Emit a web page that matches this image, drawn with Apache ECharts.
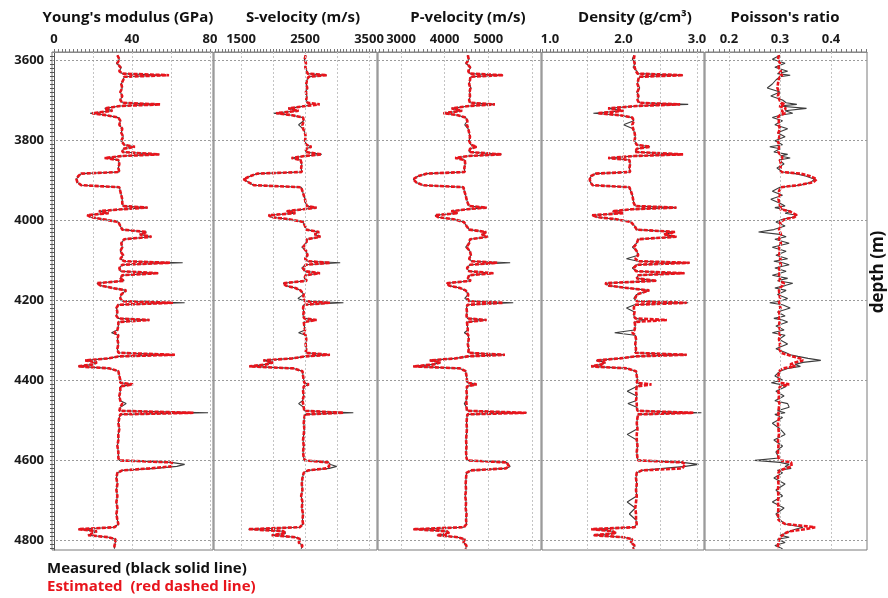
<!DOCTYPE html>
<html>
<head>
<meta charset="utf-8">
<script src="https://cdn.jsdelivr.net/npm/echarts@6/dist/echarts.min.js"></script>
<style>html,body{margin:0;padding:0;background:#fff}#c{width:888px;height:598px}</style>
</head>
<body>
<div id="c"></div>
<script>
// ---------- DATA ----------
const depth = [
3588,3598,3608,3618,3628,3634,3638,3642,3650,3660,
3670,3680,3690,3700,3707,3711,3715,3721,3727,3733,
3738,3744,3752,3762,3772,3782,3792,3802,3812,3817,
3822,3830,3836,3840,3845,3850,3860,3870,3880,3884,
3890,3898,3906,3913,3918,3928,3938,3948,3958,3965,
3969,3973,3978,3983,3988,3993,3998,4005,4015,4024,
4030,4036,4042,4048,4058,4068,4078,4088,4097,4103,
4107,4112,4120,4128,4133,4138,4146,4152,4158,4164,
4170,4176,4186,4196,4203,4207,4212,4220,4230,4240,
4246,4250,4255,4265,4275,4282,4288,4298,4310,4322,
4332,4337,4341,4346,4351,4356,4361,4366,4371,4378,
4390,4400,4407,4411,4416,4428,4440,4452,4459,4468,
4477,4482,4486,4494,4508,4522,4536,4550,4565,4580,
4595,4601,4606,4611,4616,4621,4626,4632,4645,4660,
4675,4690,4705,4720,4735,4750,4760,4768,4773,4778,
4783,4788,4793,4798,4806,4814,4822];

const youngMeas = [
32.5,33.5,32,34.5,33.5,35,57,36,35.5,34.5,
35,34,35,34,35,54,34,26,30,18.5,
27,33,34,33.5,35,34.5,35.5,34.5,36,41.5,
35.5,35,54,35,26,33,33.5,33,33.5,14,
12.5,11.5,12,14,33.5,34,34.5,35,35,35.5,
48,35,23,28,17,19,25,33,34,35,
47.5,44,50,36,34.5,35,34,35.5,34,36,
66,35,33.5,34,53.5,35,34,36,22,24,
30,37,34.5,34,35,67,33,32,32.5,32,
33,49,33,33,32.5,29.5,33,32.5,33,32.5,
33,62,33,28,16,22,20,12.5,28.5,33,
33.5,34,34,40.5,34,34,33.5,34,37,34,
33.5,79,34,33.5,33,33.5,33,33,32.5,33,
33,33.5,60,67,63,52,35,32.5,32,32.5,
32,32.5,32,32.5,32,32.5,33,31,12.5,22,
23,17.5,28,31.5,31.5,31,31];
const youngEst = [
32.5,33.5,32.5,34,33.5,35,59,36,35.5,34.5,
35,34,35,34,35,54.5,34,26,30,19.5,
27,33,34,33.5,35,34.5,35.5,34.5,36,41.5,
35.5,35,54,35,26,33,33.5,33,33.5,14,
12.5,11.5,12,14,33.5,34,34.5,35,35,35.5,
48,35,23,28,17,19,25,33,34,35,
47.5,44,50,36,34.5,35,34,35.5,34,36,
59.5,35,33.5,34,53.5,35,34,36,22,24,
30,37,34.5,34,35,61,33,32,32.5,32,
33,49,33,33,32.5,31,33,32.5,33,32.5,
33,62,33,28,16,22,20,12.5,28.5,33,
33.5,34,34,40.5,34,34,33.5,34,35,34,
33.5,71.5,34,33.5,33,33.5,33,33,32.5,33,
33,33.5,60.5,61,60,49,35,32.5,32,32.5,
32,32.5,32,32.5,32,32.5,33,31,12.5,22,
23,17.5,28,31.5,31.5,31,31];

const vsMeas = [
2510,2490,2520,2500,2530,2540,2840,2560,2530,2520,
2540,2510,2530,2520,2540,2600,2510,2240,2400,2005,
2300,2470,2480,2400,2470,2500,2510,2500,2520,2600,
2520,2510,2760,2500,2290,2430,2450,2440,2450,1760,
1650,1540,1620,1700,2440,2460,2480,2500,2510,2530,
2680,2480,2214,2350,1930,1980,2250,2470,2500,2520,
2720,2650,2740,2530,2520,2450,2520,2540,2500,2540,
3050,2510,2450,2500,2734,2510,2490,2530,2160,2200,
2350,2430,2480,2390,2500,3100,2480,2470,2480,2470,
2490,2680,2480,2490,2500,2400,2510,2520,2510,2520,
2510,2890,2500,2300,1850,2000,1900,1630,2320,2460,
2470,2480,2490,2560,2480,2470,2480,2460,2400,2480,
2490,3255,2500,2490,2480,2490,2480,2470,2480,2470,
2480,2500,2860,2900,2995,2880,2550,2480,2460,2450,
2460,2440,2460,2450,2470,2460,2470,2420,1615,2160,
2200,1980,2350,2430,2400,2460,2440];
const vsEst = [
2510,2495,2515,2505,2525,2540,2840,2555,2530,2520,
2535,2515,2525,2520,2540,2730,2510,2240,2400,2050,
2300,2470,2480,2460,2470,2500,2510,2500,2520,2600,
2520,2510,2760,2500,2290,2430,2450,2440,2450,1760,
1650,1540,1620,1700,2440,2460,2480,2500,2510,2530,
2680,2480,2214,2350,1930,1980,2250,2470,2500,2520,
2720,2650,2740,2530,2520,2470,2520,2540,2500,2540,
2890,2510,2470,2500,2734,2510,2490,2530,2160,2200,
2350,2430,2480,2470,2500,2890,2480,2470,2480,2470,
2490,2680,2480,2490,2500,2480,2510,2520,2510,2520,
2510,2890,2500,2300,1850,2000,1900,1630,2320,2460,
2470,2480,2490,2560,2480,2470,2480,2460,2470,2480,
2490,3100,2500,2490,2480,2490,2480,2470,2480,2470,
2480,2500,2860,2880,2880,2830,2550,2480,2460,2450,
2460,2440,2460,2450,2470,2460,2470,2420,1615,2160,
2200,1980,2350,2430,2400,2460,2440];

const vpMeas = [
4520,4560,4480,4600,4540,4580,5340,4600,4580,4560,
4600,4570,4590,4560,4580,5150,4560,4160,4400,3970,
4300,4480,4520,4460,4540,4560,4580,4560,4600,4730,
4580,4560,5300,4540,4240,4460,4470,4450,4460,3600,
3400,3280,3350,3500,4430,4450,4480,4500,4530,4560,
4960,4520,4150,4300,3780,3850,4200,4440,4500,4560,
4950,4850,4980,4580,4560,4480,4580,4600,4560,4620,
5500,4580,4500,4560,5115,4560,4530,4600,4050,4100,
4350,4480,4540,4460,4560,5570,4520,4500,4510,4500,
4520,4960,4510,4520,4530,4450,4540,4550,4530,4550,
4540,5380,4530,4250,3660,3900,3750,3280,4350,4480,
4500,4510,4520,4730,4510,4500,4510,4490,4450,4500,
4510,5880,4520,4510,4500,4510,4500,4490,4500,4490,
4500,4520,5420,5460,5500,5400,4600,4500,4490,4480,
4490,4470,4490,4480,4500,4490,4500,4440,3280,4050,
4100,3820,4300,4460,4430,4500,4480];
const vpEst = [
4530,4550,4500,4580,4540,4570,5340,4590,4580,4560,
4590,4570,4580,4560,4580,5150,4560,4160,4400,3970,
4300,4480,4520,4510,4540,4560,4580,4560,4600,4730,
4580,4560,5300,4540,4240,4460,4470,4450,4460,3600,
3400,3280,3350,3500,4430,4450,4480,4500,4530,4560,
4960,4520,4150,4300,3780,3850,4200,4440,4500,4560,
4950,4850,4980,4580,4560,4500,4580,4600,4560,4620,
5200,4580,4510,4560,5115,4560,4530,4600,4050,4100,
4350,4480,4540,4520,4560,5340,4520,4500,4510,4500,
4520,4960,4510,4520,4530,4510,4540,4550,4530,4550,
4540,5380,4530,4250,3660,3900,3750,3280,4350,4480,
4500,4510,4520,4730,4510,4500,4510,4490,4500,4500,
4510,5870,4520,4510,4500,4510,4500,4490,4500,4490,
4500,4520,5420,5460,5470,5400,4600,4500,4490,4480,
4490,4470,4490,4480,4500,4490,4500,4440,3280,4050,
4100,3820,4300,4460,4430,4500,4480];

const rhoMeas = [
2.14,2.12,2.16,2.13,2.18,2.20,2.81,2.22,2.20,2.19,
2.22,2.18,2.21,2.19,2.22,2.88,2.18,1.79,2.00,1.59,
1.95,2.12,2.14,2.00,2.13,2.15,2.16,2.15,2.18,2.36,
2.18,2.16,2.81,2.15,1.79,2.08,2.09,2.08,2.09,1.62,
1.56,1.54,1.55,1.58,2.08,2.10,2.12,2.13,2.14,2.16,
2.72,2.12,1.85,2.00,1.57,1.65,1.90,2.10,2.15,2.18,
2.70,2.55,2.72,2.20,2.18,2.12,2.18,2.20,2.04,2.20,
2.90,2.18,2.12,2.17,2.83,2.20,2.18,2.45,1.75,1.80,
2.05,2.35,2.18,2.14,2.18,2.88,2.15,2.04,2.15,2.14,
2.16,2.30,2.15,2.16,2.15,1.88,2.16,2.17,2.16,2.17,
2.16,2.86,2.16,1.95,1.63,1.75,1.70,1.56,2.05,2.17,
2.18,2.19,2.18,2.25,2.18,2.05,2.18,2.17,2.06,2.18,
2.19,3.06,2.20,2.19,2.18,2.19,2.05,2.18,2.19,2.18,
2.19,2.20,2.80,3.02,2.84,2.82,2.25,2.18,2.17,2.18,
2.17,2.18,2.05,2.16,2.08,2.17,2.18,2.15,1.56,1.85,
1.90,1.59,2.00,2.12,2.10,2.15,2.13];
const rhoEst = [
2.15,2.14,2.15,2.15,2.17,2.19,2.81,2.21,2.20,2.19,
2.21,2.19,2.20,2.19,2.21,2.77,2.18,1.79,2.00,1.65,
1.95,2.12,2.14,2.12,2.13,2.15,2.16,2.15,2.18,2.36,
2.18,2.16,2.81,2.15,1.79,2.08,2.09,2.08,2.09,1.62,
1.56,1.54,1.55,1.58,2.08,2.10,2.12,2.13,2.14,2.16,
2.72,2.12,1.85,2.00,1.57,1.65,1.90,2.10,2.15,2.18,
2.70,2.55,2.72,2.20,2.18,2.14,2.18,2.20,2.16,2.20,
2.90,2.18,2.14,2.17,2.83,2.20,2.18,2.45,1.75,1.80,
2.05,2.35,2.18,2.16,2.18,2.86,2.15,2.14,2.15,2.14,
2.16,2.59,2.15,2.16,2.15,2.12,2.16,2.17,2.16,2.17,
2.16,2.86,2.16,1.95,1.63,1.75,1.70,1.56,2.05,2.17,
2.18,2.19,2.18,2.38,2.18,2.17,2.18,2.17,2.18,2.18,
2.19,2.95,2.20,2.19,2.18,2.19,2.18,2.18,2.19,2.18,
2.19,2.20,2.80,2.84,2.84,2.80,2.25,2.18,2.17,2.18,
2.17,2.18,2.17,2.16,2.17,2.17,2.18,2.15,1.56,1.85,
1.90,1.59,2.00,2.12,2.10,2.15,2.13];

const poissonMeas = [
0.300,0.285,0.310,0.290,0.315,0.295,0.320,0.300,0.292,0.285,
0.275,0.300,0.282,0.305,0.312,0.333,0.298,0.352,0.310,0.325,
0.300,0.285,0.305,0.290,0.315,0.295,0.310,0.290,0.305,0.280,
0.300,0.288,0.315,0.300,0.320,0.298,0.308,0.294,0.305,0.330,
0.350,0.368,0.360,0.340,0.300,0.285,0.305,0.282,0.300,0.310,
0.290,0.305,0.322,0.310,0.333,0.325,0.305,0.292,0.310,0.288,
0.258,0.300,0.312,0.290,0.318,0.285,0.312,0.292,0.315,0.288,
0.305,0.318,0.290,0.312,0.300,0.285,0.315,0.295,0.325,0.310,
0.290,0.312,0.295,0.315,0.300,0.280,0.305,0.320,0.295,0.310,
0.288,0.305,0.315,0.292,0.308,0.285,0.310,0.298,0.315,0.292,
0.312,0.320,0.335,0.355,0.380,0.345,0.330,0.340,0.315,0.300,
0.290,0.305,0.283,0.300,0.312,0.292,0.308,0.290,0.315,0.318,
0.295,0.310,0.290,0.305,0.285,0.300,0.310,0.288,0.305,0.292,
0.298,0.251,0.300,0.318,0.310,0.322,0.295,0.305,0.288,0.310,
0.292,0.305,0.285,0.308,0.292,0.300,0.310,0.345,0.330,0.320,
0.312,0.300,0.318,0.295,0.310,0.290,0.305];
const poissonEst = [
0.298,0.296,0.300,0.297,0.302,0.298,0.305,0.300,0.297,0.296,
0.295,0.298,0.296,0.299,0.302,0.310,0.298,0.312,0.303,0.310,
0.300,0.296,0.298,0.297,0.300,0.297,0.299,0.296,0.298,0.297,
0.298,0.297,0.300,0.298,0.305,0.300,0.302,0.301,0.302,0.340,
0.358,0.372,0.365,0.335,0.302,0.298,0.300,0.297,0.299,0.300,
0.305,0.300,0.318,0.315,0.333,0.328,0.310,0.300,0.302,0.298,
0.300,0.302,0.300,0.298,0.302,0.298,0.300,0.298,0.301,0.299,
0.300,0.302,0.298,0.300,0.302,0.298,0.300,0.299,0.308,0.305,
0.300,0.298,0.299,0.300,0.298,0.300,0.299,0.301,0.298,0.300,
0.298,0.300,0.299,0.298,0.300,0.299,0.300,0.298,0.300,0.299,
0.302,0.315,0.325,0.340,0.345,0.330,0.320,0.330,0.305,0.298,
0.297,0.298,0.300,0.318,0.300,0.297,0.298,0.297,0.299,0.298,
0.297,0.300,0.297,0.298,0.296,0.297,0.298,0.296,0.297,0.296,
0.297,0.300,0.322,0.323,0.323,0.322,0.300,0.297,0.296,0.297,
0.296,0.297,0.296,0.297,0.296,0.297,0.310,0.369,0.350,0.320,
0.310,0.305,0.300,0.298,0.297,0.296,0.297];

const trackTitles = ["Young's modulus (GPa)", "S-velocity (m/s)", "P-velocity (m/s)", "Density (g/cm³)", "Poisson's ratio"];
const topTickLabels = [[0, 40, 80], [1500, 2500, 3500], [3000, 4000, 5000], [1.0, 2.0, 3.0], [0.2, 0.3, 0.4]];
const labelDecimals = [0, 0, 0, 1, 1];
const gridValues = [[20, 40, 60, 80], [1500, 2000, 2500, 3000, 3500], [3000, 4000, 5000, 6000], [1.5, 2.0, 2.5, 3.0], [0.2, 0.3, 0.4]];
const minorStep = [2, 50, 100, 0.05, 0.01];
const depthLabels = [3600, 3800, 4000, 4200, 4400, 4600, 4800];
const legendLines = ["Measured (black solid line)", "Estimated  (red dashed line)"];

// ---------- LAYOUT ----------
const gridLeft = [52, 214, 378, 542, 705];
const gridWidth = [161, 163, 163, 162, 162];
const xMin = [-1.03, 1078, 2473, 0.891, 0.153];
const xMax = [81.54, 3625, 6206, 3.095, 0.4706];
const titleX = [128, 303, 468, 635, 785];
const GT = 52, GH = 498;
const D_MIN = 3580, D_MAX = 4825;

const measSets = [youngMeas, vsMeas, vpMeas, rhoMeas, poissonMeas];
const estSets = [youngEst, vsEst, vpEst, rhoEst, poissonEst];

function pairs(vals) { return vals.map((v, i) => [v, depth[i]]); }
function stepValues(a, b, s) {
  const out = [];
  const start = Math.ceil(a / s - 1e-9);
  for (let k = start; k * s <= b + 1e-9; k++) out.push(+(k * s).toFixed(4));
  return out;
}
const depthMinor = stepValues(3590, 4820, 10);

const FONT = 'Open Sans';
const grids = [], xAxes = [], yAxes = [], series = [];
for (let i = 0; i < 5; i++) {
  grids.push({ left: gridLeft[i], width: gridWidth[i], top: GT, height: GH, show: true, borderColor: '#7a7a7a', borderWidth: 1 });
  xAxes.push({
    gridIndex: i, type: 'value', position: 'top', min: xMin[i], max: xMax[i],
    axisLine: { show: true, lineStyle: { color: '#8a8a8a', width: 1 } },
    axisTick: { show: true, customValues: stepValues(xMin[i], xMax[i], minorStep[i]), length: 3, lineStyle: { color: '#777' } },
    axisLabel: { customValues: topTickLabels[i], formatter: v => Number(v).toFixed(labelDecimals[i]), color: '#1a1a1a', fontFamily: FONT, fontWeight: 'bold', fontSize: 13, margin: 6, hideOverlap: false },
    splitLine: { show: false }
  });
  yAxes.push({
    gridIndex: i, type: 'value', inverse: true, min: D_MIN, max: D_MAX,
    axisLine: { show: i === 0, lineStyle: { color: '#555' } },
    axisTick: { show: i === 0, customValues: depthMinor, length: 4, lineStyle: { color: '#555' } },
    axisLabel: { show: i === 0, customValues: depthLabels, formatter: v => String(Math.round(v)), color: '#1a1a1a', fontFamily: FONT, fontWeight: 'bold', fontSize: 13, margin: 8 },
    splitLine: { show: false }
  });
  const ml = [];
  gridValues[i].forEach(v => ml.push({ xAxis: v, lineStyle: { color: '#c4c4c4', type: [2, 2], width: 1 } }));
  depthLabels.forEach(d => ml.push({ yAxis: d, lineStyle: { color: '#9a9a9a', type: [2, 2], width: 1 } }));
  series.push({
    type: 'line', xAxisIndex: i, yAxisIndex: i, data: pairs(measSets[i]), showSymbol: false, symbol: 'none',
    lineStyle: { color: '#3c3c3c', width: 1.1 }, z: 3, animation: false,
    markLine: { silent: true, symbol: 'none', label: { show: false }, animation: false, data: ml }
  });
  series.push({
    type: 'line', xAxisIndex: i, yAxisIndex: i, data: pairs(estSets[i]), showSymbol: false, symbol: 'none',
    lineStyle: { color: '#e8141c', width: 2.6, type: [4, 1.5] }, z: 4, animation: false
  });
}

const graphics = [];
trackTitles.forEach((t, i) => graphics.push({
  type: 'text', x: titleX[i], y: 18, style: { text: t, fill: '#111', font: 'bold 15px "' + FONT + '"', textAlign: 'center', textVerticalAlign: 'middle' }
}));
graphics.push({ type: 'text', x: 878, y: 272, rotation: Math.PI / 2, style: { text: 'depth (m)', fill: '#111', font: 'bold 17px "' + FONT + '"', textAlign: 'center', textVerticalAlign: 'middle' } });
graphics.push({ type: 'text', x: 47, y: 569, style: { text: legendLines[0], fill: '#111', font: 'bold 15px "' + FONT + '"', textVerticalAlign: 'middle' } });
graphics.push({ type: 'text', x: 47, y: 587, style: { text: legendLines[1], fill: '#e8141c', font: 'bold 15px "' + FONT + '"', textVerticalAlign: 'middle' } });

const chart = echarts.init(document.getElementById('c'), null, { renderer: 'canvas' });
chart.setOption({
  animation: false, backgroundColor: '#fff',
  grid: grids, xAxis: xAxes, yAxis: yAxes, series: series, graphic: graphics
});
</script>
</body>
</html>
